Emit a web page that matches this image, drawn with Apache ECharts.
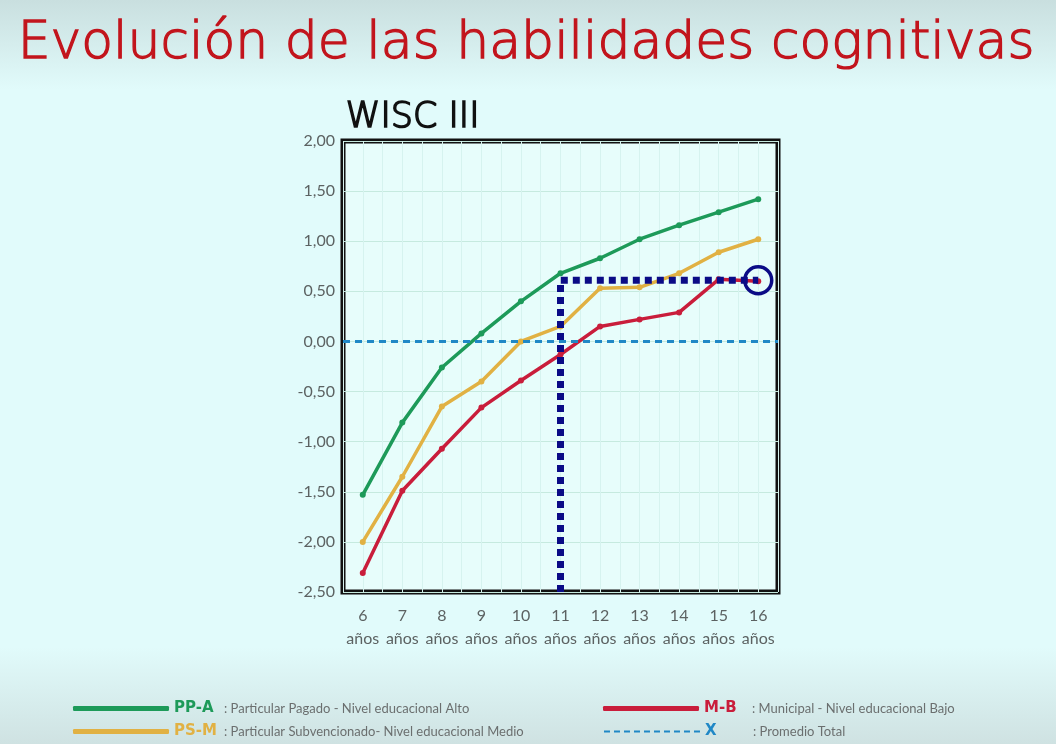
<!DOCTYPE html>
<html>
<head>
<meta charset="utf-8">
<script src="https://cdn.jsdelivr.net/npm/echarts@6/dist/echarts.min.js"></script>
<style>
html,body{margin:0;padding:0;}
#c{width:1056px;height:744px;}
</style>
</head>
<body>
<div id="c"></div>
<script>
// ---- data ----
const categories = ['6','7','8','9','10','11','12','13','14','15','16'];
const ppA = [-1.53, -0.81, -0.26, 0.08, 0.40, 0.68, 0.83, 1.02, 1.16, 1.29, 1.42];
const psM = [-2.00, -1.35, -0.65, -0.40, 0.00, 0.15, 0.53, 0.54, 0.68, 0.89, 1.02];
const mB  = [-2.31, -1.49, -1.07, -0.66, -0.39, -0.13, 0.15, 0.22, 0.29, 0.62, 0.60];
const promedio = 0.00;
const guideAge = '11';
const guideEndAge = '16';
const guideValue = 0.61;
const yTicks = [-2.5, -2, -1.5, -1, -0.5, 0, 0.5, 1, 1.5, 2];

const C_GREEN = '#1d9a59';
const C_YELLOW = '#e1b143';
const C_RED = '#c91d3b';
const C_BLUE = '#2088c6';
const C_NAVY = '#0b0b86';
const C_TXT = '#5c6262';

const legendText = {
  'PP-A': ': Particular Pagado - Nivel educacional Alto',
  'PS-M': ': Particular Subvencionado- Nivel educacional Medio',
  'M-B': ': Municipal - Nivel educacional Bajo',
  'X': ': Promedio Total'
};
const legendColor = {'PP-A': C_GREEN, 'PS-M': C_YELLOW, 'M-B': C_RED, 'X': C_BLUE};

const chart = echarts.init(document.getElementById('c'));
const halfBands = [];
for (let i = 0; i < categories.length * 2; i++) halfBands.push(String(i));

function lineSeries(name, data, color) {
  return {
    name, type: 'line', data,
    symbol: 'circle', symbolSize: 6,
    lineStyle: {color, width: 3.5},
    itemStyle: {color},
    z: 3
  };
}

function makeLegend(name, left, top, keyWidth, item) {
  return {
    left, top, itemWidth: 96, itemHeight: 5, itemGap: 0,
    data: [item],
    formatter: n => '{k|' + n + '}{t|' + legendText[n] + '}',
    textStyle: {rich: {
      k: {color: legendColor[name], fontWeight: 'bold', fontSize: 15, width: keyWidth,
          fontFamily: 'DejaVu Sans'},
      t: {color: '#6b6f6f', fontSize: 13, fontFamily: 'Lato'}
    }}
  };
}

const option = {
  backgroundColor: {
    type: 'linear', x: 0, y: 0, x2: 0, y2: 1,
    colorStops: [
      {offset: 0, color: '#c9dfdf'},
      {offset: 0.12, color: '#e1fbfb'},
      {offset: 0.87, color: '#e1fbfb'},
      {offset: 1, color: '#cfe2e2'}
    ]
  },
  animation: false,
  graphic: [
    {type: 'text', left: 17, top: 18,
     style: {text: 'Evolución de las habilidades cognitivas', fill: '#c2141c',
             stroke: '#c2141c', lineWidth: 1.3,
             font: '200 52px "DejaVu Sans"'}},
    {type: 'text', left: 345, top: 100,
     style: {text: 'WISC III', fill: '#111', stroke: '#111', lineWidth: 1.6,
             font: '200 35px "DejaVu Sans"'}}
  ],
  grid: {left: 343, right: 278, top: 141, bottom: 152, show: true,
         borderColor: '#111', borderWidth: 5, backgroundColor: '#e7fdfb'},
  legend: [
    makeLegend('PP-A', 68, 696, 50, {name: 'PP-A', icon: 'roundRect'}),
    makeLegend('PS-M', 68, 719, 50, {name: 'PS-M', icon: 'roundRect'}),
    makeLegend('M-B', 598, 696, 48, {name: 'M-B', icon: 'roundRect'}),
    makeLegend('X', 598, 719, 48, {name: 'X', itemStyle: {opacity: 0}})
  ],
  xAxis: [
    {type: 'category', data: categories, boundaryGap: true,
     axisLine: {show: false}, axisTick: {show: false}, splitLine: {show: false},
     axisLabel: {formatter: v => v + '\naños', color: C_TXT, fontSize: 16,
                 lineHeight: 23, margin: 12, fontFamily: 'Lato', interval: 0}},
    {type: 'category', data: halfBands, boundaryGap: true, position: 'top',
     axisLine: {show: false}, axisTick: {show: false}, axisLabel: {show: false},
     splitLine: {show: true, interval: 0, lineStyle: {color: '#d6f3ef', width: 1}}}
  ],
  yAxis: {
    type: 'value', min: -2.5, max: 2, interval: 0.5,
    axisLine: {show: false}, axisTick: {show: false},
    splitLine: {lineStyle: {color: '#c6eadf', width: 1}},
    axisLabel: {formatter: v => v.toFixed(2).replace('.', ','), color: C_TXT,
                fontSize: 16, margin: 8, fontFamily: 'Lato'}
  },
  series: [
    lineSeries('PP-A', ppA, C_GREEN),
    lineSeries('PS-M', psM, C_YELLOW),
    lineSeries('M-B', mB, C_RED),
    {name: 'X', type: 'line', data: [], symbol: 'none',
     lineStyle: {color: C_BLUE, width: 3, type: [6, 4]},
     itemStyle: {color: C_BLUE},
     markLine: {silent: true, symbol: 'none', label: {show: false},
                lineStyle: {color: C_BLUE, width: 3, type: [7, 5]},
                data: [{yAxis: promedio}]}},
    {name: 'guia', type: 'line', z: 5, symbol: 'none',
     lineStyle: {color: C_NAVY, width: 7, type: [7, 5], cap: 'butt'},
     data: [
       [guideAge, -2.5],
       [guideAge, guideValue],
       {value: [guideEndAge, guideValue], symbol: 'circle', symbolSize: 27,
        itemStyle: {color: 'rgba(0,0,0,0)', borderColor: C_NAVY, borderWidth: 3.5}}
     ]}
  ]
};
chart.setOption(option);
</script>
</body>
</html>
